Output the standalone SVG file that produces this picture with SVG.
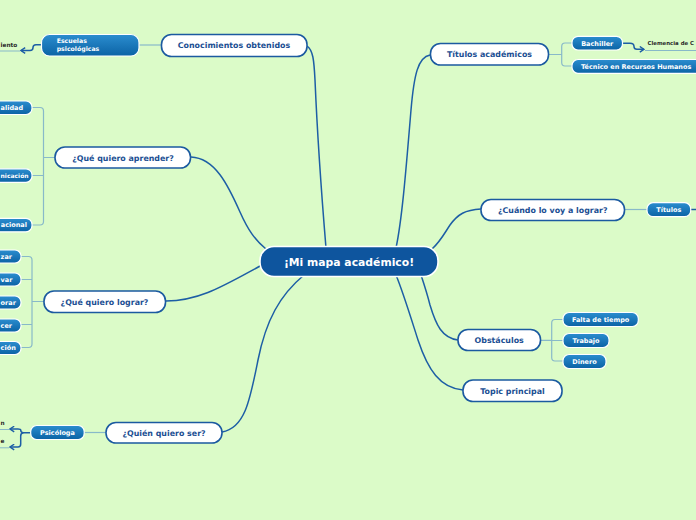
<svg xmlns="http://www.w3.org/2000/svg" width="696" height="520" viewBox="0 0 696 520">
<style>
.topic rect{fill:#ffffff;stroke:#1b5aa0;stroke-width:1.6}
.topic text{font-family:"DejaVu Sans",Verdana,sans-serif;font-weight:bold;font-size:7.9px;fill:#1c4f93;text-anchor:middle}
.sub rect{fill:url(#sg);stroke:#ffffff;stroke-width:1.2}
.sub text{font-family:"DejaVu Sans",Verdana,sans-serif;font-weight:bold;font-size:6.5px;fill:#ffffff;text-anchor:middle}
.sub text.edge{text-anchor:start}
.central rect{fill:#0e559e;stroke:#ffffff;stroke-width:1.6}
.central text{font-family:"DejaVu Sans",Verdana,sans-serif;font-weight:bold;font-size:10.8px;fill:#ffffff;text-anchor:middle}
.float text{font-family:"DejaVu Sans",Verdana,sans-serif;font-weight:bold;font-size:5.8px;fill:#2a2a2a}
.main{fill:none;stroke:#1d5ea5;stroke-width:1.5}
.light{fill:none;stroke:#88b9c9;stroke-width:1.2}
.arrow{fill:none;stroke:#1d5ea5;stroke-width:1.5}
.uline{fill:none;stroke:#88b9c9;stroke-width:1}
</style>
<defs>
<linearGradient id="sg" x1="0" y1="0" x2="0" y2="1">
<stop offset="0" stop-color="#2b8dcf"/>
<stop offset="1" stop-color="#0b63a5"/>
</linearGradient>
<marker id="ah" viewBox="0 0 10 10" refX="8" refY="5" markerWidth="7" markerHeight="7" markerUnits="userSpaceOnUse" orient="auto">
<path d="M2,1 L8,5 L2,9" fill="none" stroke="#1d5ea5" stroke-width="2"/>
</marker>
</defs>
<rect x="0" y="0" width="696" height="520" fill="#dbfbc8"/>

<g id="connectors">
<path class="main" d="M307,46 C313,50 314,60 315,80 C318,150 322,200 326,248"/>
<path class="main" d="M191,157 C215,158 228,185 240,212 C248,230 255,240 266,249"/>
<path class="main" d="M166,301 C200,301 225,285 262,265"/>
<path class="main" d="M222,432 C245,428 250,400 258,360 C266,320 280,295 304,275"/>
<path class="main" d="M430,55 C418,57 414,75 411,110 C406,170 402,220 396,248"/>
<path class="main" d="M481,209 C465,210 458,214 450,225 C444,234 440,242 432,249"/>
<path class="main" d="M458,340 C442,338 436,325 430,305 C427,293 424,284 421,275"/>
<path class="main" d="M463,390 C440,388 428,370 418,340 C410,315 403,292 396,275"/>

<path class="light" d="M139,45 L162,45"/>
<path class="light" d="M55,157.5 L43.5,157.5 M32,107.5 L40,107.5 Q43.5,107.5 43.5,111 L43.5,221.5 Q43.5,225 40,225 L32,225 M43.5,175.5 L32,175.5"/>
<path class="light" d="M44,301.5 L32,301.5 M21,256.5 L28.5,256.5 Q32,256.5 32,260 L32,344 Q32,347.5 28.5,347.5 L21,347.5 M32,279.5 L21,279.5 M32,324.5 L21,324.5"/>
<path class="light" d="M84,432.5 L106,432.5"/>
<path class="light" d="M549,54.5 L561.7,54.5 M572,43 L565,43 Q561.7,43 561.7,46.5 L561.7,62.5 Q561.7,66 565,66 L572,66"/>
<path class="light" d="M625,209.5 L647,209.5"/>
<path class="light" d="M541,340.3 L551.7,340.3 M563,319.5 L555,319.5 Q551.7,319.5 551.7,323 L551.7,357.5 Q551.7,361 555,361 L563,361 M551.7,340.5 L563,340.5"/>

<path class="arrow" d="M41,44.7 L36,44.7 Q33,44.7 33,47.5 Q33,50.5 30,50.5 L21,50.5" marker-end="url(#ah)"/>
<path class="uline" d="M0,51 L20,51"/>
<path class="arrow" d="M623,43.3 L630,43.3 Q634,43.3 634,46.5 Q634,49.3 637,49.3 L644,49.3" marker-end="url(#ah)"/>
<path class="uline" d="M645,50.5 L696,50.5"/>
<path class="arrow" d="M691,209.5 L696,209.5"/>
<path class="arrow" d="M30.5,432.7 L23.5,432.7 Q20.7,432.7 20.7,430 Q20.7,429 18,429 L10,429" marker-end="url(#ah)"/>
<path class="arrow" d="M23.5,432.7 Q20.7,432.7 20.7,436 L20.7,444 Q20.7,447 18,447 L10,447" marker-end="url(#ah)"/>
<path class="uline" d="M0,429.5 L9,429.5 M0,447.8 L9,447.8"/>
</g>

<g id="central" class="central">
<rect x="260" y="246.5" width="178" height="30" rx="14"/>
<text x="349" y="265.5">¡Mi mapa académico!</text>
</g>

<g id="conocimientos" class="topic">
<rect x="161.5" y="34.5" width="145.5" height="22" rx="10"/>
<text x="234" y="48.4">Conocimientos obtenidos</text>
</g>
<g id="aprender" class="topic">
<rect x="55" y="147" width="135.5" height="21" rx="10"/>
<text x="123" y="160.5">¿Qué quiero aprender?</text>
</g>
<g id="lograr" class="topic">
<rect x="44" y="291" width="121.5" height="21.5" rx="10"/>
<text x="104.5" y="304.8">¿Qué quiero lograr?</text>
</g>
<g id="quien" class="topic">
<rect x="106" y="422.5" width="116" height="20.5" rx="10"/>
<text x="164" y="435.8">¿Quién quiero ser?</text>
</g>
<g id="titulos-academicos" class="topic">
<rect x="430.5" y="43.5" width="118" height="21.5" rx="10"/>
<text x="489.5" y="57.2">Títulos académicos</text>
</g>
<g id="cuando" class="topic">
<rect x="481" y="199.5" width="143.5" height="21" rx="10"/>
<text x="552.7" y="213">¿Cuándo lo voy a lograr?</text>
</g>
<g id="obstaculos" class="topic">
<rect x="458" y="329.5" width="82.5" height="21" rx="10"/>
<text x="499.2" y="343">Obstáculos</text>
</g>
<g id="topic-principal" class="topic">
<rect x="463" y="380" width="99" height="21.5" rx="10"/>
<text x="512.5" y="393.8">Topic principal</text>
</g>

<g id="escuelas" class="sub">
<rect x="41.5" y="34.5" width="97.5" height="21.5" rx="8"/>
<text x="56.7" y="43.3" style="text-anchor:start;font-size:6.2px">Escuelas</text>
<text x="56.7" y="51" style="text-anchor:start;font-size:6.2px">psicológicas</text>
</g>
<g id="alidad" class="sub">
<rect x="-40" y="101" width="72" height="13.5" rx="6"/>
<text class="edge" x="0.6" y="110.1">alidad</text>
</g>
<g id="nicacion" class="sub">
<rect x="-40" y="168.8" width="72" height="13.5" rx="6"/>
<text class="edge" x="0.6" y="177.8" style="font-size:6px">nicación</text>
</g>
<g id="acional" class="sub">
<rect x="-40" y="218.3" width="72" height="13.5" rx="6"/>
<text class="edge" x="0.8" y="227.3">acional</text>
</g>
<g id="zar" class="sub">
<rect x="-40" y="250" width="61" height="13" rx="6"/>
<text class="edge" x="0.6" y="258.8">zar</text>
</g>
<g id="var" class="sub">
<rect x="-40" y="273" width="61" height="13" rx="6"/>
<text class="edge" x="0.6" y="281.8">var</text>
</g>
<g id="orar" class="sub">
<rect x="-40" y="296" width="61" height="13" rx="6"/>
<text class="edge" x="0.6" y="304.8">orar</text>
</g>
<g id="cer" class="sub">
<rect x="-40" y="319" width="61" height="13" rx="6"/>
<text class="edge" x="0.6" y="327.8">cer</text>
</g>
<g id="cion" class="sub">
<rect x="-40" y="341.5" width="61" height="13" rx="6"/>
<text class="edge" x="0.6" y="350.3">ción</text>
</g>
<g id="psicologa" class="sub">
<rect x="30.7" y="425.5" width="53.5" height="14" rx="6"/>
<text x="57.5" y="434.8">Psicóloga</text>
</g>
<g id="bachiller" class="sub">
<rect x="572" y="36.3" width="50.5" height="13.7" rx="6"/>
<text x="597.2" y="45.5">Bachiller</text>
</g>
<g id="tecnico" class="sub">
<rect x="572" y="59.5" width="140" height="13.8" rx="6"/>
<text x="581" y="68.7" style="text-anchor:start">Técnico en Recursos Humanos</text>
</g>
<g id="titulos" class="sub">
<rect x="647" y="202.7" width="43.7" height="14" rx="6"/>
<text x="668.8" y="212">Títulos</text>
</g>
<g id="falta" class="sub">
<rect x="563" y="312.5" width="75.3" height="14" rx="6"/>
<text x="600.6" y="321.8">Falta de tiempo</text>
</g>
<g id="trabajo" class="sub">
<rect x="563" y="333.5" width="46" height="14" rx="6"/>
<text x="586" y="342.8">Trabajo</text>
</g>
<g id="dinero" class="sub">
<rect x="563" y="354.5" width="43" height="14" rx="6"/>
<text x="584.5" y="363.8">Dinero</text>
</g>

<g id="float-iento" class="float">
<text x="0.5" y="46.7">iento</text>
</g>
<g id="float-clemencia" class="float">
<text x="647.5" y="45" style="font-size:5.4px">Clemencia de C</text>
</g>
<g id="float-n" class="float">
<text x="0.5" y="425">n</text>
</g>
<g id="float-e" class="float">
<text x="0.5" y="443">e</text>
</g>
</svg>
